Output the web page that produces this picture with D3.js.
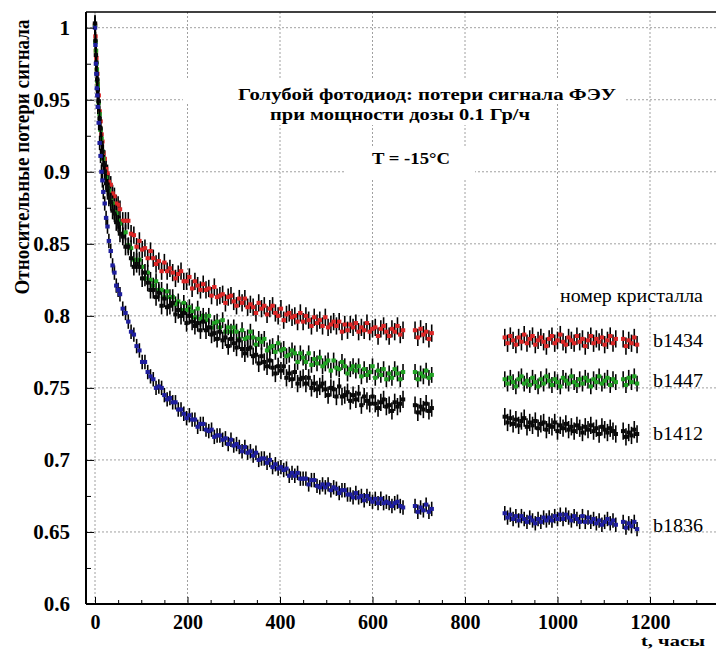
<!DOCTYPE html>
<html>
<head>
<meta charset="utf-8">
<script src="https://cdn.jsdelivr.net/npm/d3@7"></script>
<style>
  body { margin: 0; background: #fff; }
  svg { display: block; }
</style>
</head>
<body>
<div id="chart"></div>
<script>
/* globals d3 */

// measurement times, hours (gaps are where the run was stopped)
const hours = [
  0, 1, 2, 3, 4, 5, 6, 8, 10, 12, 14, 16, 18, 21, 24, 27, 30, 34, 38, 42, 46, 50,
  54, 60, 66, 72, 78, 84, 90, 96, 102, 108,
  114, 120, 126, 132, 138, 144, 150, 156, 162, 168,
  174, 180, 186, 192, 198, 204, 210, 216, 222, 228,
  234, 240, 246, 252, 258, 264, 270, 276, 282, 288,
  294, 300, 306, 312, 318, 324, 330, 336, 342, 348,
  354, 360, 366, 372, 378, 384, 390, 396, 402, 408,
  414, 420, 426, 432, 438, 444, 450, 456, 462, 468,
  474, 480, 486, 492, 498, 504, 510, 516, 522, 528,
  534, 540, 546, 552, 558, 564, 570, 576, 582, 588,
  594, 600, 606, 612, 618, 624, 630, 636, 642, 648,
  654, 660, 666,
  692, 698, 704, 710, 716, 722, 728,
  886, 892, 898, 904, 910, 916, 922, 928, 934, 940,
  946, 952, 958, 964, 970, 976, 982, 988, 994, 1000,
  1006, 1012, 1018, 1024, 1030, 1036, 1042, 1048, 1054, 1060,
  1066, 1072, 1078, 1084, 1090, 1096, 1102, 1108, 1114, 1120, 1126,
  1142, 1148, 1154, 1160, 1166, 1172
]

const b1434 = [
  1.002, 0.994, 0.984, 0.979, 0.971, 0.968, 0.961, 0.953, 0.942, 0.935, 0.926, 0.921, 0.913, 0.909, 0.902, 0.899, 0.893, 0.891, 0.885, 0.883, 0.878, 0.877,
  0.874, 0.866, 0.866, 0.866, 0.857, 0.856, 0.848, 0.852, 0.846, 0.847,
  0.840, 0.845, 0.840, 0.836, 0.838, 0.831, 0.837, 0.831, 0.833, 0.830,
  0.826, 0.829, 0.831, 0.824, 0.824, 0.827, 0.819, 0.824, 0.821, 0.818,
  0.822, 0.818, 0.819, 0.814, 0.820, 0.813, 0.814, 0.815, 0.809, 0.813,
  0.814, 0.810, 0.807, 0.812, 0.809, 0.812, 0.806, 0.808, 0.806, 0.802,
  0.809, 0.805, 0.807, 0.801, 0.805, 0.807, 0.802, 0.800, 0.805, 0.797,
  0.801, 0.802, 0.799, 0.800, 0.796, 0.802, 0.796, 0.800, 0.797, 0.793,
  0.799, 0.795, 0.797, 0.793, 0.799, 0.792, 0.794, 0.796, 0.793, 0.796,
  0.789, 0.794, 0.790, 0.794, 0.792, 0.795, 0.789, 0.792, 0.790, 0.795,
  0.789, 0.791, 0.792, 0.786, 0.791, 0.793, 0.789, 0.786, 0.791, 0.789,
  0.793, 0.787, 0.790,
  0.790, 0.785, 0.791, 0.787, 0.789, 0.784, 0.788,
  0.785, 0.781, 0.786, 0.783, 0.780, 0.785, 0.782, 0.787, 0.781, 0.784,
  0.786, 0.780, 0.783, 0.785, 0.782, 0.779, 0.784, 0.786, 0.781, 0.783,
  0.787, 0.782, 0.780, 0.785, 0.783, 0.781, 0.786, 0.782, 0.784, 0.779,
  0.783, 0.786, 0.781, 0.784, 0.782, 0.785, 0.780, 0.783, 0.786, 0.781, 0.784,
  0.784, 0.779, 0.783, 0.781, 0.785, 0.780
]

const b1447 = [
  1.001, 0.990, 0.984, 0.975, 0.971, 0.963, 0.960, 0.948, 0.940, 0.929, 0.923, 0.914, 0.909, 0.900, 0.896, 0.889, 0.887, 0.880, 0.878, 0.872, 0.871, 0.866,
  0.864, 0.856, 0.858, 0.849, 0.847, 0.839, 0.838, 0.839, 0.834, 0.826,
  0.830, 0.825, 0.821, 0.824, 0.818, 0.818, 0.813, 0.817, 0.813, 0.813,
  0.808, 0.810, 0.804, 0.809, 0.804, 0.806, 0.803, 0.799, 0.805, 0.798,
  0.800, 0.797, 0.800, 0.792, 0.795, 0.796, 0.792, 0.797, 0.789, 0.792,
  0.789, 0.792, 0.789, 0.784, 0.790, 0.784, 0.785, 0.789, 0.785, 0.780,
  0.784, 0.782, 0.784, 0.776, 0.778, 0.779, 0.775, 0.781, 0.776, 0.777,
  0.772, 0.773, 0.776, 0.774, 0.768, 0.774, 0.771, 0.768, 0.774, 0.766,
  0.770, 0.767, 0.771, 0.765, 0.767, 0.769, 0.762, 0.769, 0.764, 0.763,
  0.768, 0.765, 0.760, 0.763, 0.765, 0.762, 0.765, 0.758, 0.763, 0.759,
  0.761, 0.765, 0.757, 0.762, 0.759, 0.763, 0.756, 0.760, 0.757, 0.763,
  0.760, 0.756, 0.761,
  0.761, 0.756, 0.760, 0.758, 0.762, 0.757, 0.759,
  0.756, 0.753, 0.757, 0.754, 0.751, 0.756, 0.758, 0.753, 0.755, 0.752,
  0.757, 0.754, 0.751, 0.756, 0.753, 0.758, 0.755, 0.752, 0.756, 0.754,
  0.751, 0.757, 0.755, 0.753, 0.758, 0.754, 0.752, 0.756, 0.753, 0.757,
  0.755, 0.751, 0.756, 0.754, 0.758, 0.753, 0.755, 0.757, 0.752, 0.756, 0.754,
  0.756, 0.752, 0.757, 0.754, 0.758, 0.753
]

const b1412 = [
  1.003, 0.991, 0.981, 0.976, 0.968, 0.964, 0.957, 0.949, 0.937, 0.930, 0.920, 0.914, 0.905, 0.900, 0.892, 0.889, 0.882, 0.879, 0.873, 0.871, 0.865, 0.864,
  0.857, 0.855, 0.848, 0.848, 0.840, 0.834, 0.836, 0.834, 0.826, 0.830,
  0.823, 0.818, 0.818, 0.813, 0.816, 0.807, 0.812, 0.806, 0.807, 0.809,
  0.801, 0.804, 0.800, 0.802, 0.795, 0.800, 0.796, 0.793, 0.795, 0.790,
  0.796, 0.790, 0.792, 0.787, 0.788, 0.784, 0.789, 0.783, 0.785, 0.779,
  0.784, 0.781, 0.778, 0.783, 0.777, 0.774, 0.777, 0.778, 0.772, 0.773,
  0.767, 0.772, 0.768, 0.765, 0.769, 0.764, 0.760, 0.765, 0.762, 0.765,
  0.757, 0.760, 0.756, 0.761, 0.753, 0.756, 0.757, 0.753, 0.757, 0.750,
  0.753, 0.749, 0.751, 0.753, 0.749, 0.745, 0.750, 0.749, 0.744, 0.751,
  0.744, 0.745, 0.747, 0.741, 0.745, 0.742, 0.746, 0.738, 0.744, 0.741,
  0.739, 0.744, 0.739, 0.736, 0.740, 0.742, 0.737, 0.738, 0.734, 0.740,
  0.737, 0.739, 0.742,
  0.738, 0.733, 0.737, 0.735, 0.739, 0.734, 0.736,
  0.730, 0.726, 0.729, 0.725, 0.728, 0.724, 0.727, 0.729, 0.723, 0.726,
  0.724, 0.727, 0.722, 0.725, 0.726, 0.721, 0.724, 0.723, 0.726, 0.720,
  0.724, 0.722, 0.725, 0.721, 0.723, 0.720, 0.724, 0.722, 0.719, 0.723,
  0.721, 0.724, 0.720, 0.722, 0.718, 0.723, 0.721, 0.719, 0.722, 0.720, 0.718,
  0.720, 0.716, 0.719, 0.717, 0.721, 0.718
]

const b1836 = [
  1.000, 0.988, 0.975, 0.968, 0.958, 0.953, 0.945, 0.934, 0.920, 0.911, 0.900, 0.894, 0.886, 0.878, 0.868, 0.862, 0.852, 0.845, 0.835, 0.830, 0.821, 0.818,
  0.815, 0.805, 0.802, 0.796, 0.789, 0.787, 0.779, 0.776, 0.768, 0.768,
  0.761, 0.758, 0.756, 0.750, 0.751, 0.750, 0.745, 0.742, 0.743, 0.740,
  0.740, 0.735, 0.735, 0.732, 0.729, 0.731, 0.728, 0.728, 0.723, 0.725,
  0.725, 0.721, 0.720, 0.721, 0.716, 0.717, 0.717, 0.714, 0.715, 0.711,
  0.714, 0.710, 0.711, 0.709, 0.706, 0.709, 0.705, 0.706, 0.703, 0.705,
  0.700, 0.701, 0.701, 0.698, 0.700, 0.695, 0.697, 0.694, 0.695, 0.693,
  0.694, 0.689, 0.691, 0.689, 0.691, 0.687, 0.687, 0.687, 0.683, 0.686,
  0.686, 0.682, 0.681, 0.683, 0.681, 0.683, 0.679, 0.681, 0.680, 0.677,
  0.679, 0.679, 0.676, 0.676, 0.674, 0.677, 0.674, 0.675, 0.672, 0.675,
  0.673, 0.671, 0.673, 0.670, 0.673, 0.670, 0.671, 0.670, 0.668, 0.670,
  0.671, 0.668, 0.667,
  0.668, 0.664, 0.667, 0.665, 0.669, 0.664, 0.666,
  0.663, 0.660, 0.662, 0.659, 0.661, 0.658, 0.661, 0.659, 0.657, 0.660,
  0.658, 0.656, 0.659, 0.657, 0.660, 0.658, 0.660, 0.658, 0.661, 0.659,
  0.662, 0.659, 0.662, 0.660, 0.658, 0.661, 0.659, 0.657, 0.661, 0.657,
  0.660, 0.657, 0.659, 0.656, 0.658, 0.655, 0.657, 0.659, 0.656, 0.658, 0.655,
  0.657, 0.653, 0.656, 0.654, 0.657, 0.652
]

// half length of each point's error bar, per crystal
const halfErrors = [0.006, 0.0055, 0.006, 0.005]
const crystals = ['b1434', 'b1447', 'b1412', 'b1836']

const xTicks = [0, 200, 400, 600, 800, 1000, 1200]
const xMinorTicks = [50, 100, 150, 250, 300, 350, 450, 500, 550, 650, 700, 750, 850, 900, 950, 1050, 1100, 1150, 1250, 1300]
const yTicks = [0.6, 0.65, 0.7, 0.75, 0.8, 0.85, 0.9, 0.95, 1]
const yMinorTicks = [0.625, 0.675, 0.725, 0.775, 0.825, 0.875, 0.925, 0.975]

class DoseChart {

  constructor (target) {
    this._target = target
    this._options = {
      width: 716,
      height: 649,
      frame: {left: 86, top: 12, right: 716, bottom: 604},
      font: "'Liberation Serif', 'Times New Roman', serif",
      colors: ['#dc2626', '#21a224', '#0a0a0a', '#1e1e9e'],
      markerWidth: 4.4,
      markerHeight: 4,
      barWidth: 1.6,
      // value level where each crystal name sits at the right
      labelLevels: [0.7833, 0.7556, 0.7188, 0.6549]
    }
    this._x = d3.scaleLinear().domain([0, 1200]).range([95, 650])
    this._y = d3.scaleLinear().domain([0.6, 1]).range([604, 27.7])
  }

  _text (layer, str, x, y, attrs) {
    const t = layer.append('text')
      .attr('x', x)
      .attr('y', y)
      .attr('font-family', this._options.font)
      .text(str)
    Object.keys(attrs || {}).forEach(k => t.attr(k, attrs[k]))
    return t
  }

  _drawGrid () {
    const f = this._options.frame
    const x = this._x
    const y = this._y
    const grid = this._svg.append('g')
      .attr('class', 'grid')
      .attr('stroke', '#a0a0a0')
      .attr('stroke-width', 1)
      .attr('stroke-dasharray', '2,2')

    grid.selectAll('line.gx').data(xTicks).join('line')
      .attr('class', 'gx')
      .attr('x1', d => x(d)).attr('x2', d => x(d))
      .attr('y1', f.top).attr('y2', f.bottom)

    grid.selectAll('line.gy').data(yTicks.filter(d => d > 0.6)).join('line')
      .attr('class', 'gy')
      .attr('x1', f.left).attr('x2', f.right)
      .attr('y1', d => y(d)).attr('y2', d => y(d))
  }

  _drawNotes () {
    const layer = this._svg.append('g').attr('class', 'notes')
    // white boxes under the text, as in the original pave
    const boxes = [[183, 80, 442, 24], [255, 104, 290, 21], [345, 148, 130, 30], [555, 286, 158, 22]]
    layer.selectAll('rect').data(boxes).join('rect')
      .attr('x', d => d[0]).attr('y', d => d[1])
      .attr('width', d => d[2]).attr('height', d => d[3])
      .attr('fill', '#fff')

    const bold = {'font-weight': 'bold', 'font-size': 17, 'lengthAdjust': 'spacingAndGlyphs'}
    this._text(layer, 'Голубой фотодиод: потери сигнала ФЭУ', 238, 100, Object.assign({textLength: 378}, bold))
    this._text(layer, 'при мощности дозы 0.1 Гр/ч', 270, 119.5, Object.assign({textLength: 260}, bold))
    this._text(layer, 'T = -15°C', 372, 164, {'font-weight': 'bold', 'font-size': 17, textLength: 78, lengthAdjust: 'spacingAndGlyphs'})
    this._text(layer, 'номер кристалла', 560, 302, {'font-size': 18, textLength: 143, lengthAdjust: 'spacingAndGlyphs'})

    const y = this._y
    crystals.forEach((name, k) => {
      this._text(layer, name, 653, y(this._options.labelLevels[k]) + 7, {'font-size': 19, textLength: 50, lengthAdjust: 'spacingAndGlyphs'})
    })
  }

  _drawSeries () {
    const o = this._options
    const x = this._x
    const y = this._y
    const layer = this._svg.append('g').attr('class', 'series')
    const values = [b1434, b1447, b1412, b1836]

    values.forEach((vals, k) => {
      const err = halfErrors[k]
      const pts = hours.map((t, i) => ({t: t, v: vals[i]})).filter(p => p.v !== undefined)
      const g = layer.append('g').attr('class', crystals[k])

      g.selectAll('line').data(pts).join('line')
        .attr('x1', p => x(p.t)).attr('x2', p => x(p.t))
        .attr('y1', p => y(p.v - err)).attr('y2', p => y(p.v + err))
        .attr('stroke', '#000')
        .attr('stroke-width', o.barWidth)

      g.selectAll('rect').data(pts).join('rect')
        .attr('x', p => x(p.t) - o.markerWidth / 2)
        .attr('y', p => y(p.v) - o.markerHeight / 2)
        .attr('width', o.markerWidth)
        .attr('height', o.markerHeight)
        .attr('fill', o.colors[k])
    })
  }

  _drawAxes () {
    const o = this._options
    const f = o.frame
    const svg = this._svg

    const styleAxis = g => {
      g.select('.domain').remove()
      g.attr('font-family', o.font)
      g.selectAll('line').attr('stroke', '#000').attr('stroke-width', 1)
      g.selectAll('text')
        .attr('font-family', o.font)
        .attr('font-size', 20)
        .attr('font-weight', 'bold')
        .attr('fill', '#000')
    }

    svg.append('g')
      .attr('transform', 'translate(0,' + f.bottom + ')')
      .call(d3.axisBottom(this._x).tickValues(xTicks).tickSize(-7).tickPadding(10.5).tickFormat(d3.format('d')))
      .call(styleAxis)
    svg.append('g')
      .attr('transform', 'translate(0,' + f.bottom + ')')
      .call(d3.axisBottom(this._x).tickValues(xMinorTicks).tickSize(-4).tickFormat(''))
      .call(styleAxis)

    svg.append('g')
      .attr('transform', 'translate(' + f.left + ',0)')
      .call(d3.axisLeft(this._y).tickValues(yTicks).tickSize(-8).tickPadding(16).tickFormat(d => String(d)))
      .call(styleAxis)
      .call(g => g.selectAll('text').attr('font-size', 21))
    svg.append('g')
      .attr('transform', 'translate(' + f.left + ',0)')
      .call(d3.axisLeft(this._y).tickValues(yMinorTicks).tickSize(-5).tickFormat(''))
      .call(styleAxis)

    // frame
    const frame = svg.append('g').attr('stroke', '#000')
    frame.append('line').attr('x1', f.left).attr('x2', f.right).attr('y1', f.bottom).attr('y2', f.bottom).attr('stroke-width', 2)
    frame.append('line').attr('x1', f.left).attr('x2', f.left).attr('y1', f.top).attr('y2', f.bottom).attr('stroke-width', 2)
    frame.append('line').attr('x1', f.left).attr('x2', f.right).attr('y1', f.top).attr('y2', f.top).attr('stroke-width', 1.5)

    this._text(svg, 'Относительные потери сигнала', 0, 0, {
      'font-weight': 'bold',
      'font-size': 20,
      'text-anchor': 'middle',
      textLength: 275,
      lengthAdjust: 'spacingAndGlyphs',
      transform: 'translate(29,157) rotate(-90)'
    })
    this._text(svg, 't, часы', 705, 645.5, {
      'font-weight': 'bold',
      'font-size': 15,
      'text-anchor': 'end',
      textLength: 64,
      lengthAdjust: 'spacingAndGlyphs'
    })
  }

  draw () {
    const o = this._options
    this._svg = d3.select(this._target)
      .append('svg')
      .attr('width', o.width)
      .attr('height', o.height)
    this._svg.append('rect').attr('width', o.width).attr('height', o.height).attr('fill', '#fff')

    this._drawGrid()
    this._drawNotes()
    this._drawSeries()
    this._drawAxes()
    return this
  }
}

new DoseChart('#chart').draw()
</script>
</body>
</html>
